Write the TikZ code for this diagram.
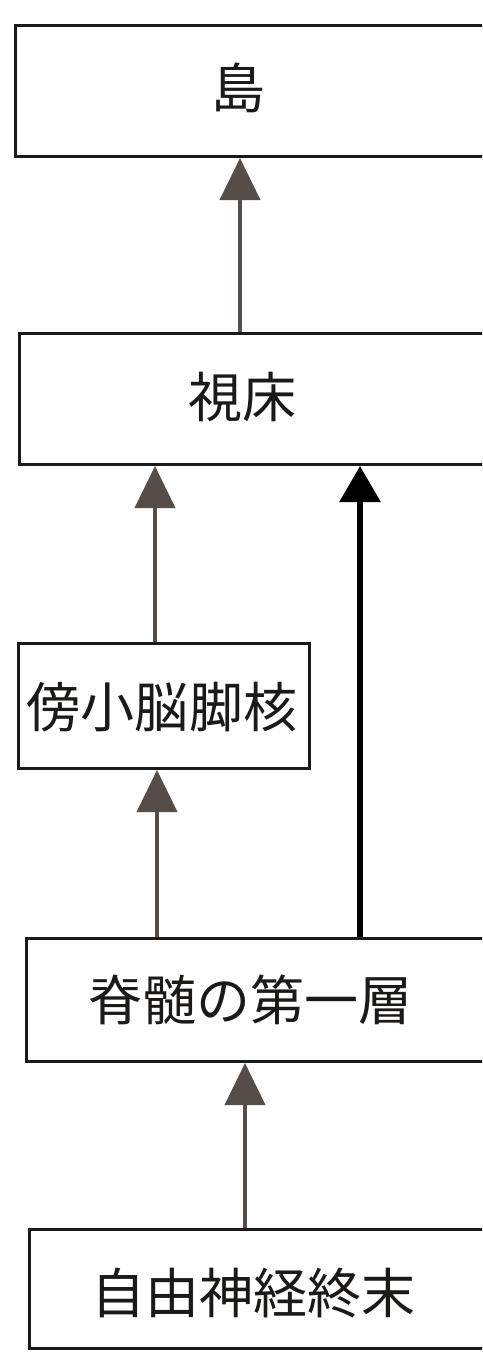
\documentclass[tikz,border=0pt]{standalone}
\usepackage{fontspec}
\newfontfamily\jp{Noto Sans CJK JP}
\usetikzlibrary{arrows.meta}
\definecolor{ink}{HTML}{1C1A19}
\definecolor{arrgray}{HTML}{574D48}
\tikzset{
  boxst/.style={draw=ink, line width=3pt, fill=white, rectangle, inner sep=0pt, anchor=north west},
  lbl/.style={font=\jp\fontsize{54}{60}\selectfont, text=ink, inner sep=0pt},
  garrow/.style={draw=arrgray, line width=4pt, -{Triangle[width=40pt,length=42pt]}},
  barrow/.style={draw=black, line width=6pt, -{Triangle[width=40pt,length=36pt]}}
}
\begin{document}
\begin{tikzpicture}[x=1pt,y=-1pt]
\clip (0,0) rectangle (482,1357);
\fill[white] (0,0) rectangle (482,1357);
% boxes
\node[boxst, minimum width=520pt, minimum height=131pt] (b1) at (14,24) {};
\node[boxst, minimum width=520pt, minimum height=131pt] (b2) at (18,332) {};
\node[boxst, minimum width=291pt, minimum height=125pt] (b3) at (17,642) {};
\node[boxst, minimum width=520pt, minimum height=123pt] (b4) at (25,937) {};
\node[boxst, minimum width=520pt, minimum height=119pt] (b5) at (28,1228) {};
% labels
\node[lbl] (t1) at (238,88) {島};
\node[lbl] (t2) at (242,397) {視床};
\node[lbl] (t3) at (162,707) {傍小脳脚核};
\node[lbl] (t4) at (250,1000) {脊髄の第一層};
\node[lbl] (t5) at (253,1293) {自由神経終末};
% connector columns
\coordinate (xa) at (240,0);
\coordinate (xb) at (155,0);
\coordinate (xc) at (360,0);
\coordinate (xd) at (157,0);
\coordinate (xe) at (245,0);
% connectors
\draw[garrow] (b2.north -| xa) -- (b1.south -| xa);
\draw[garrow] (b3.north -| xb) -- (b2.south -| xb);
\draw[barrow] (b4.north -| xc) -- (b2.south -| xc);
\draw[garrow] (b4.north -| xd) -- (b3.south -| xd);
\draw[garrow] (b5.north -| xe) -- (b4.south -| xe);
\end{tikzpicture}
\end{document}
